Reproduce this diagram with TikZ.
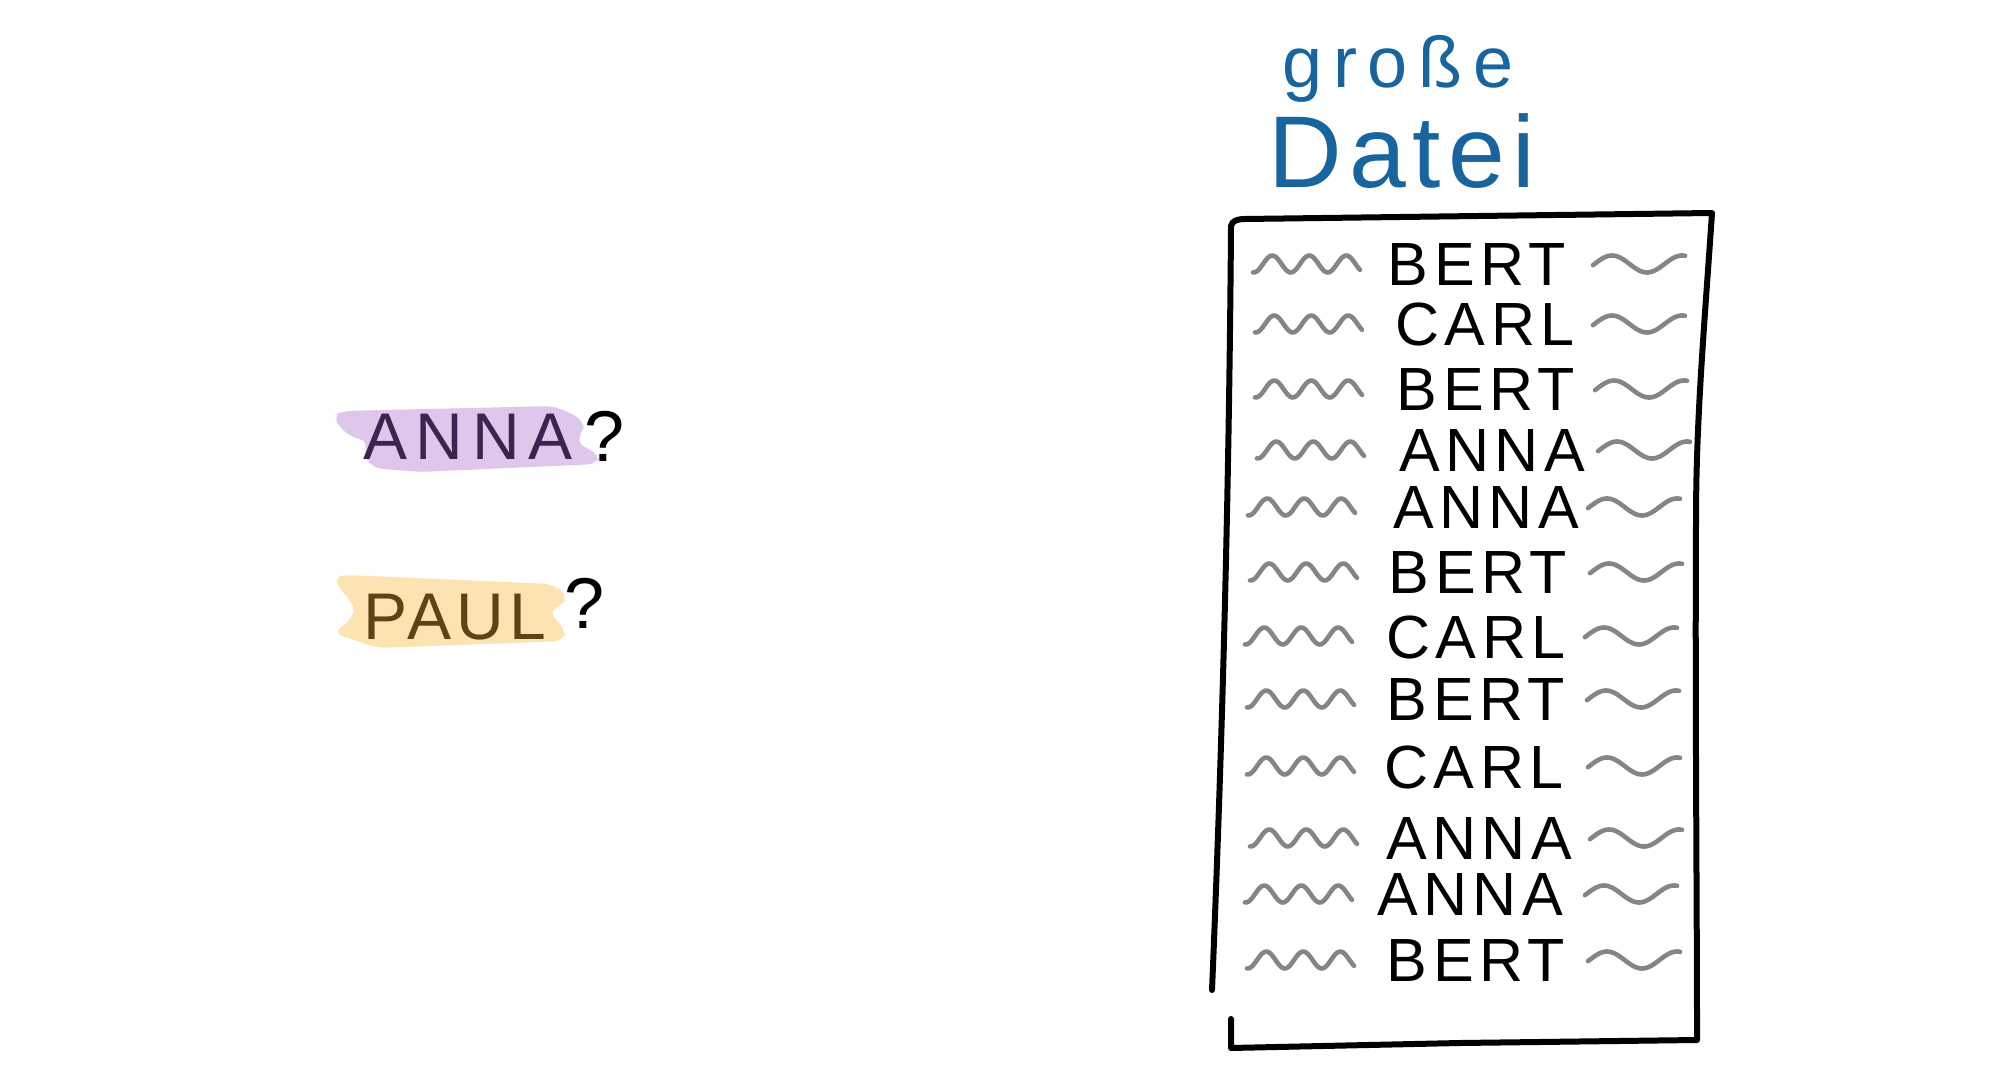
\documentclass[tikz,border=0pt]{standalone}
\usepackage{fontspec}
\setmainfont{Liberation Sans}
\newfontfamily\hand[LetterSpace=9]{Liberation Sans}
\newfontfamily\handq{Liberation Sans}
\newfontfamily\handwide[LetterSpace=13]{Liberation Sans}
\newfontfamily\handmid[LetterSpace=8]{Liberation Sans}
\newfontfamily\handtitle[LetterSpace=15]{Liberation Sans}
\newfontfamily\handtitleb[LetterSpace=7]{Liberation Sans}
\definecolor{squiggrey}{HTML}{858585}
\definecolor{titleblue}{HTML}{17649F}
\definecolor{hlpurple}{HTML}{DEC7EB}
\definecolor{txpurple}{HTML}{3D2450}
\definecolor{hlorange}{HTML}{FDE3B2}
\definecolor{txbrown}{HTML}{5C4416}
\begin{document}
\begin{tikzpicture}[x=0.5pt,y=-0.5pt,
  listname/.style={font=\hand\fontsize{30.5}{30.5}\selectfont, inner sep=0pt, anchor=center},
  squig/.style={draw=squiggrey, line width=2.3pt, line cap=round, line join=round},
  framestroke/.style={line width=3pt, line cap=round, line join=round},
  query/.style={inner sep=0pt, anchor=center},
  qmark/.style={font=\handq\fontsize{36}{36}\selectfont, inner sep=0pt, anchor=center, text=black}]
\useasboundingbox (0,0) rectangle (2000,1074);

% title
\node[font=\handtitle\fontsize{36}{36}\selectfont, text=titleblue, inner sep=0pt, anchor=base west] (grosse) at (1282,88) {große};
\node[font=\handtitleb\fontsize{51}{51}\selectfont, text=titleblue, inner sep=0pt, anchor=base west] (datei) at (1268,188) {Datei};

% file frame
\draw[framestroke] (1212,990) .. controls (1222,750) and (1229,500) .. (1231,226)
  .. controls (1232,221) and (1237,219) .. (1245,219) -- (1712,213)
  .. controls (1704,330) and (1696,420) .. (1696,520)
  .. controls (1695,700) and (1697,900) .. (1697,1040)
  -- (1460,1043) -- (1231,1048) -- (1231,1019);

% rows
\foreach \i/\tx/\ty/\txt/\ls/\rs in {
  1/1477/265/BERT/1253/1593,
  2/1485/325/CARL/1255/1593,
  3/1486/390/BERT/1255/1595,
  4/1492/451/ANNA/1257/1598,
  5/1486/508/ANNA/1248/1588,
  6/1478/573/BERT/1250/1590,
  7/1476/637/CARL/1245/1585,
  8/1476/700/BERT/1247/1587,
  9/1474/767/CARL/1247/1588,
  10/1479/839/ANNA/1250/1590,
  11/1470/895/ANNA/1245/1585,
  12/1476/961/BERT/1247/1588}{
  \node[listname] (row\i) at (\tx,\ty) {\txt};
  \begin{scope}[shift={(\ls,\ty-1)}]
    \draw[squig] plot[domain=0:107, samples=60] (\x, {-8.5*sin(9.7297*(\x-10))});
  \end{scope}
  \begin{scope}[shift={(\rs,\ty-1)}]
    \draw[squig] plot[domain=0:92, samples=50] (\x, {-8.5*sin(5.1429*(\x-1.5))});
  \end{scope}
}

% ANNA? highlight
\fill[hlpurple, rounded corners=5pt] (332,417) -- (342,411) -- (555,406) -- (584,420) -- (583,433)
  -- (575,442) -- (600,455) -- (598,464) -- (420,472) -- (372,468) -- (362,452) -- (370,442)
  -- (348,436) -- cycle;
\node[query, font=\handwide\fontsize{33}{33}\selectfont, text=txpurple] (anna) at (468,437) {ANNA};
\node[qmark] (annaq) at (605,436) {?};

% PAUL? highlight
\fill[hlorange, rounded corners=5pt] (333,577) -- (346,575) -- (552,584) -- (568,595) -- (562,606)
  -- (548,611) -- (566,630) -- (564,641) -- (378,648) -- (333,633) -- (352,619) -- (356,606)
  -- (345,596) -- cycle;
\node[query, font=\handmid\fontsize{33}{33}\selectfont, text=txbrown] (paul) at (455,617) {PAUL};
\node[qmark] (paulq) at (585,603) {?};
\end{tikzpicture}
\end{document}
